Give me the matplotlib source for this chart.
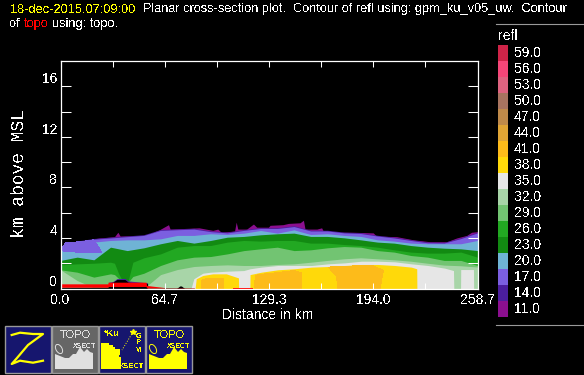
import numpy as np
import matplotlib
matplotlib.use("Agg")
import matplotlib.pyplot as plt
from matplotlib.patches import Rectangle, Polygon, Ellipse

plt.rcParams['font.family'] = ['Liberation Sans', 'DejaVu Sans']
plt.rcParams['text.antialiased'] = False

# --- data ---
legend_levels = ["59.0", "56.0", "53.0", "50.0", "47.0", "44.0", "41.0", "38.0", "35.0",
                 "32.0", "29.0", "26.0", "23.0", "20.0", "17.0", "14.0", "11.0"]
legend_colors = ["#CF2448", "#F54678", "#DE6380", "#A87460", "#BF8A4A", "#E0A535", "#FDBB1A", "#FFD90A", "#E6E6E6",
                 "#A8D5A8", "#72C472", "#22A822", "#128A12", "#6FB3D5", "#7B5FE0", "#4B1E9E", "#8B0F8F"]
x_ticks = [0.0, 32.35, 64.7, 97.0, 129.3, 161.7, 194.0, 226.4, 258.7]
x_tick_labels = ["0.0", "", "64.7", "", "129.3", "", "194.0", "", "258.7"]
y_ticks = [0, 2, 4, 6, 8, 10, 12, 14, 16]
y_tick_labels = ["0", "", "4", "", "8", "", "12", "", "16"]

# outline of the echo (11 dBZ band)
edge_dist = [0, 3.5, 11.8, 24.2, 33.5, 35.6, 37, 53, 61.4, 67, 68, 86, 94.5, 97.6, 99.7, 108, 109, 110,
             115.5, 119.7, 121.7, 129, 130, 138, 141.4, 148.6, 150.7, 151.7, 159, 162, 163, 169.3,
             181.7, 194, 196, 208.6, 219, 229.3, 239.6, 245.8, 252, 255, 258.7]
edge_top = [3.0, 3.6, 3.75, 4.0, 4.1, 4.45, 4.15, 4.2, 4.65, 5.05, 4.7, 4.8, 4.6, 4.7, 4.45, 4.55, 5.25, 4.7,
            4.7, 5.1, 4.85, 4.85, 5.0, 5.05, 5.15, 5.2, 5.4, 4.7, 4.7, 4.8, 4.55, 4.45,
            4.45, 4.4, 4.15, 4.1, 3.85, 3.7, 3.7, 4.0, 4.2, 4.45, 4.5]

# tops of the bands on a common distance grid
dist = np.linspace(0, 258.7, 26)
top_17 = [3.0, 3.7, 3.9, 4.0, 4.1, 4.2, 4.6, 4.65, 4.7, 4.5, 4.4, 4.6, 4.75, 4.75, 4.9, 4.55, 4.55, 4.4,
          4.35, 4.15, 4.0, 3.8, 3.62, 3.6, 3.95, 4.4]
top_20 = [3.0, 3.0, 3.67, 3.8, 3.85, 3.85, 3.93, 4.2, 4.2, 4.33, 4.27, 4.38, 4.59, 4.38, 4.64, 4.27, 4.33, 4.2,
          4.12, 3.85, 3.75, 3.59, 3.54, 3.54, 3.54, 3.8]
top_23 = [2.22, 2.48, 2.27, 3.27, 3.0, 3.22, 3.54, 3.8, 3.59, 3.8, 4.06, 4.12, 4.25, 4.33, 4.38, 4.12, 4.12, 4.01,
          3.85, 3.67, 3.59, 3.4, 3.27, 3.19, 3.14, 3.0]
top_32 = [1.48, 0.63, 0.05, 0, 0, 0, 1.1, 1.5, 1.74, 1.82, 1.87, 1.82, 1.82, 1.9, 1.95, 2.08, 2.22, 2.35,
          2.43, 2.35, 2.27, 2.16, 2.0, 1.85, 1.8, 1.7]

# purple lobe at the left end, it sits under the 20 dBZ band
lobe_dist = [0, 3, 11.8, 20.7, 25.5, 11.8, 5]
lobe_top = [3.0, 3.6, 3.7, 3.85, 2.88, 2.88, 2.9]

# 26 and 29 dBZ have a notch near 40 km, so they get a finer grid
dist_notch = [0, 10.35, 20.7, 31.05, 33.5, 36, 38, 42, 44.9, 51.75, 62.1, 72.4, 82.8, 93.1, 103.5, 113.8, 124.2,
              134.5, 144.9, 155.2, 165.6, 175.9, 186.3, 196.6, 207, 217.3, 227.7, 238, 248.4, 258.7]
top_26 = [1.87, 1.95, 2.0, 2.08, 2.0, 1.2, 0.7, 0.63, 2.08, 2.43, 2.74, 3.27, 3.4, 3.4, 3.67, 3.8, 3.75,
          3.8, 3.8, 3.59, 3.59, 3.48, 3.4, 3.27, 3.06, 2.88, 2.8, 2.8, 2.88, 2.48]
top_29 = [1.48, 1.29, 0.9, 1.16, 1.1, 0.8, 0.55, 0.5, 0.95, 1.21, 1.82, 2.27, 2.48, 2.53, 2.74, 3.0, 3.14,
          3.27, 3.0, 3.06, 3.22, 3.32, 3.27, 3.0, 2.88, 2.61, 2.48, 2.22, 2.22, 1.82]

white_dist = [81, 82.7, 88.3, 93, 103.4, 113.7, 117.6, 124.6, 134.8, 145.1, 155.7, 166, 176.3, 186.7, 197,
              207.4, 217.7, 228, 238.4, 243.8, 244, 248.2, 248.3, 256.2, 256.3]
white_top = [0, 0.77, 1.21, 1.29, 1.37, 1.42, 1.56, 1.69, 1.82, 1.82, 1.82, 1.95, 2.03, 2.16, 2.16,
             2.11, 1.95, 1.82, 1.61, 1.42, 0, 0, 1.5, 1.5, 0]

yellow_dist_a = [83.5, 84.2, 88.3, 94.5, 102.8, 110.4, 110.5]
yellow_top_a = [0, 0.77, 1.03, 1.16, 1.16, 0.84, 0]
yellow_dist_b = [117.5, 117.6, 124.6, 134.8, 145, 155.7, 166, 176.3, 186.7, 197, 207.4, 217.7, 221, 221.1]
yellow_top_b = [0, 1.1, 1.29, 1.48, 1.56, 1.69, 1.74, 1.82, 1.9, 1.9, 1.82, 1.69, 1.56, 0]

orange_dist_a = [87.2, 87.3, 90.4, 101.1, 101.2]
orange_top_a = [0, 0.63, 0.77, 0.77, 0]
orange_dist_b = [120.6, 120.7, 123.8, 132, 145, 149.7, 149.8]
orange_top_b = [0, 1.03, 1.11, 1.21, 1.42, 1.21, 0]
orange_dist_c = [171.8, 171.4, 166.2, 176, 186.7, 194, 200.3, 198.2]
orange_top_c = [0, 0.95, 1.69, 1.76, 1.8, 1.8, 1.42, 0]

# terrain
topo_dist = [0, 29.4, 29.5, 53.1, 53.4, 65.6, 83, 83.1]
topo_low = [0.1, 0.1, 0.16, 0.16, 0.04, 0.04, 0.02, 0]
topo_high = [0.37, 0.37, 0.5, 0.5, 0.24, 0.06, 0.05, 0]
topo_dist_2 = [107, 119.7]
topo_high_2 = [0.05, 0.05]
hump_dist = [30, 32.5, 35, 40, 42, 46, 54]
hump_rim = [0.5, 0.55, 0.78, 0.8, 0.6, 0.55, 0.45]
hump_top = [0.45, 0.5, 0.71, 0.71, 0.5, 0.45, 0.4]
hump_2_dist = [72, 74, 75, 77]
hump_2_top = [0, 0.2, 0.2, 0]

color_of = dict(zip(legend_levels, legend_colors))

fig = plt.figure(figsize=(5.84, 3.75), dpi=100, facecolor='k')
W, H = 584.0, 375.0
ax = fig.add_axes([60.5 / W, (H - 288.5) / H, 417 / W, 227.5 / H], facecolor='k')

aa = False
ax.fill_between(edge_dist, 0, edge_top, color=color_of["11.0"], lw=0, antialiased=aa)
ax.fill_between(dist, 0, np.array(top_17) + 0.06, color=color_of["14.0"], lw=0, antialiased=aa)
ax.fill_between(dist, 0, top_17, color=color_of["17.0"], lw=0, antialiased=aa)
ax.fill_between(dist, 0, top_20, color=color_of["20.0"], lw=0, antialiased=aa)
ax.fill(lobe_dist, lobe_top, color=color_of["17.0"], lw=0, antialiased=aa)
ax.fill_between(dist, 0, top_23, color=color_of["23.0"], lw=0, antialiased=aa)
ax.fill_between(dist_notch, 0, top_26, color=color_of["26.0"], lw=0, antialiased=aa)
ax.fill_between(dist_notch, 0, top_29, color=color_of["29.0"], lw=0, antialiased=aa)
ax.fill_between(dist, 0, top_32, color=color_of["32.0"], lw=0, antialiased=aa)
ax.fill_between(white_dist, 0, white_top, color=color_of["35.0"], lw=0, antialiased=aa)
for d, t in [(yellow_dist_a, yellow_top_a), (yellow_dist_b, yellow_top_b)]:
    ax.fill_between(d, 0, t, color=color_of["38.0"], lw=0, antialiased=aa)
for d, t in [(orange_dist_a, orange_top_a), (orange_dist_b, orange_top_b), (orange_dist_c, orange_top_c)]:
    ax.fill(d, t, color=color_of["41.0"], lw=0, antialiased=aa)

# terrain on top
ax.fill_between(hump_dist, 0, hump_rim, color=color_of["14.0"], lw=0, antialiased=aa)
ax.fill_between(hump_dist, 0, hump_top, color='k', lw=0, antialiased=aa)
ax.fill_between(hump_2_dist, 0, hump_2_top, color='k', lw=0, antialiased=aa)
ax.fill_between(topo_dist, 0, topo_low, color='k', lw=0, antialiased=aa)
ax.fill_between(topo_dist, topo_low, topo_high, color='#FF0000', lw=0, antialiased=aa)
ax.fill_between(topo_dist_2, 0, topo_high_2, color='#FF0000', lw=0, antialiased=aa)

ax.set_xlim(0, 258.7)
ax.set_ylim(0, 18)
ax.set_xticks(x_ticks, x_tick_labels)
ax.set_yticks(y_ticks, y_tick_labels)
ax.tick_params(axis='x', direction='in', length=4, width=0.75, color='w', labelcolor='w',
               top=True, labelsize=10, pad=3)
ax.tick_params(axis='y', direction='in', length=7.2, width=0.75, color='w', labelcolor='w',
               right=True, labelsize=10, pad=2.5)
for lab in ax.get_yticklabels():
    lab.set_verticalalignment('bottom')
for s in ax.spines.values():
    s.set_color('w')
    s.set_linewidth(0.9)

# everything outside the axes is placed in pixels
px = fig.add_axes([0, 0, 1, 1], facecolor='none')
px.set_xlim(0, W)
px.set_ylim(H, 0)
px.axis('off')

px.text(10, 9, "18-dec-2015,07:09:00", color='#FFFF00', fontsize=9.2, va='center')
px.text(143, 9, "Planar cross-section plot.  Contour of refl using: gpm_ku_v05_uw.  Contour",
        color='w', fontsize=9.2, va='center')
px.text(10, 24, "of", color='w', fontsize=9.2, va='center')
px.text(24, 24, "topo", color='#FF0000', fontsize=9.2, va='center')
px.text(52, 24, "using: topo.", color='w', fontsize=9.2, va='center')

px.text(268, 315, "Distance in km", color='w', fontsize=10, ha='center', va='center')
px.text(20, 173, "km above MSL", color='w', fontsize=13, family='Liberation Mono',
        rotation=90, ha='center', va='center')

# colour legend
px.plot([496, 584], [23.5, 23.5], color='#999999', lw=0.8)
px.plot([496, 584], [324.5, 324.5], color='#999999', lw=0.8)
px.text(498, 36, "refl", color='w', fontsize=10, va='center')
for i, (lev, col) in enumerate(zip(legend_levels, legend_colors)):
    px.add_patch(Rectangle((498, 45 + 16 * i), 10, 16, color=col, lw=0, antialiased=False))
    px.text(514, 53 + 16 * i, lev, color='w', fontsize=10, va='center')

# icon buttons
navy = '#16166E'
yellow = '#FFFF00'
for x0, bg in [(5, navy), (52, '#666666'), (99, navy), (146, navy)]:
    px.add_patch(Rectangle((x0, 325.5), 45.5, 47, facecolor=bg, edgecolor='#999999', lw=1.0))

# Z
px.plot([11.7, 20, 33, 43, 28, 17, 11.7, 20, 33, 43],
        [335, 332.7, 334, 334, 345, 358, 364, 360.7, 362.7, 360.7], color=yellow, lw=1.6)

# TOPO icons
terrain_x = np.array([8, 13, 18, 22, 26, 29, 33, 37, 40, 43, 46])
terrain_y = np.array([354, 356, 358, 358, 354, 354, 347, 352, 349, 352, 353])
for x0, tc in [(52, '#E0E0E0'), (146, yellow)]:
    tx = x0 + terrain_x - 5
    px.add_patch(Polygon(list(zip(tx, terrain_y)) + [(tx[-1], 369), (tx[0], 369)], color=tc, lw=0))
    px.text(x0 + 23, 335, "TOPO", color=tc, fontsize=8, ha='center', va='center')
    px.text(x0 + 33, 346, "XSECT", color=tc, fontsize=5, weight='bold', ha='center', va='center')
    px.add_patch(Ellipse((x0 + 7, 349), 6, 10, angle=-30, fill=False, edgecolor=tc, lw=0.7))

# GPM icon
px.text(104, 334, "*Ku", color=yellow, fontsize=6.5, weight='bold', ha='left', va='center')
px.text(139, 336, "G", color=yellow, fontsize=5.5, weight='bold', ha='center', va='center')
px.text(139, 343, "P", color=yellow, fontsize=5.5, weight='bold', ha='center', va='center')
px.text(139, 350, "M", color=yellow, fontsize=5.5, weight='bold', ha='center', va='center')
px.text(132, 366, "XSECT", color=yellow, fontsize=5.5, weight='bold', ha='center', va='center')
px.plot([133, 122], [332, 350], color=yellow, lw=0.7, ls=':')
px.plot([133], [332], marker='*', color=yellow, ms=4, lw=0)
cx, cy = np.meshgrid(np.arange(102, 122, 2), np.arange(342, 370, 2))
keep = (cx - 102) ** 2 / 20.0 ** 2 + (cy - 370) ** 2 / 28.0 ** 2 < 1
px.scatter(cx[keep], cy[keep], s=1.2, marker='s', color=yellow, lw=0)
px.add_patch(Rectangle((102, 362), 9, 7, color=yellow, lw=0))
px.add_patch(Rectangle((114, 349), 6, 6, color=yellow, lw=0))

fig.savefig("out.png", dpi=100, facecolor='k')
